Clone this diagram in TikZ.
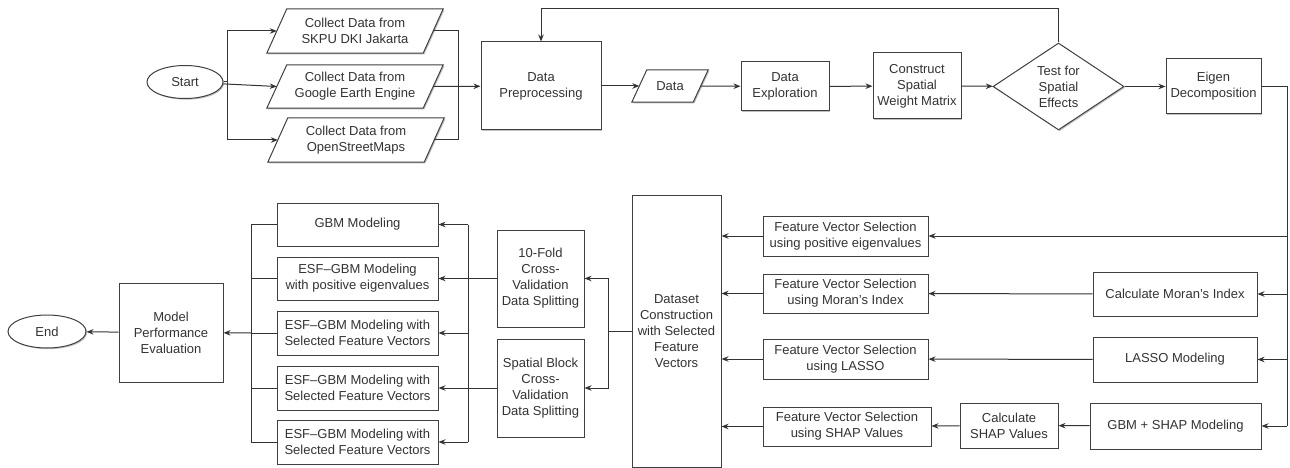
\documentclass[tikz,border=0pt]{standalone}
\usepackage{fontspec}
\setmainfont{Liberation Sans}
\usetikzlibrary{shapes.geometric,arrows.meta,calc,shadows}
\pgfdeclarelayer{background}
\pgfsetlayers{background,main}
\begin{document}
\begin{tikzpicture}[x=1pt,y=-1pt,
  every node/.style={font=\fontsize{13}{16}\selectfont, text=black!80, align=center},
  sh/.style={drop shadow={shadow xshift=1.2pt, shadow yshift=-1.2pt, opacity=0.25, fill=black}},
  box/.style={rectangle, draw=black!75, line width=1pt, fill=white, inner sep=1pt, sh},
  paranode/.style={rectangle, draw=none, inner sep=0pt},
  pshape/.style={draw=black!75, line width=1pt, fill=white, sh},
  term/.style={ellipse, draw=black!75, line width=1pt, fill=white, inner sep=0pt, sh},
  dec/.style={diamond, aspect=1.5, draw=black!75, line width=1pt, fill=white, inner sep=0pt, sh},
  line/.style={draw=black!80, line width=1pt},
  arr/.style={line, -{Stealth[length=7pt,width=5.5pt]}}
]
\useasboundingbox (0,0) rectangle (1290,468);

% top row
\node[term, minimum width=76, minimum height=33] (start) at (185,82) {Start};
\node[paranode, minimum width=176, minimum height=44] (p1) at (355,31) {Collect Data from\\SKPU DKI Jakarta};
\node[paranode, minimum width=176, minimum height=43] (p2) at (355,86.5) {Collect Data from\\Google Earth Engine};
\node[paranode, minimum width=176, minimum height=44] (p3) at (356,140) {Collect Data from\\OpenStreetMaps};
\node[box, minimum width=120, minimum height=88] (pre) at (541,86) {Data\\Preprocessing};
\node[paranode, minimum width=76, minimum height=32] (data) at (670,86) {Data};
\node[box, minimum width=88, minimum height=49] (expl) at (785,86.5) {Data\\Exploration};
\node[box, minimum width=88, minimum height=66] (cw) at (917,86) {Construct\\Spatial\\Weight Matrix};
\node[dec, minimum width=131, minimum height=87] (test) at (1058.5,86.5) {Test for\\Spatial\\Effects};
\node[box, minimum width=95, minimum height=55] (eig) at (1213.5,86.5) {Eigen\\Decomposition};

\begin{pgfonlayer}{background}
\foreach \n/\s in {p1/20,p2/20,p3/20,data/15}
  \draw[pshape] (\n.south west) -- ($(\n.north west)+(\s,0)$) -- (\n.north east) -- ($(\n.south east)-(\s,0)$) -- cycle;
\end{pgfonlayer}

% right part
\node[box, minimum width=165, minimum height=40] (fv1) at (845.5,236) {Feature Vector Selection\\using positive eigenvalues};
\node[box, minimum width=165, minimum height=39] (fv2) at (845.5,293.5) {Feature Vector Selection\\using Moran's Index};
\node[box, minimum width=165, minimum height=40] (fv3) at (845.5,359) {Feature Vector Selection\\using LASSO};
\node[box, minimum width=168, minimum height=39] (fv4) at (847,426.5) {Feature Vector Selection\\using SHAP Values};
\node[box, minimum width=164, minimum height=44] (mor) at (1175,294) {Calculate Moran's Index};
\node[box, minimum width=164, minimum height=45] (las) at (1175,359.5) {LASSO Modeling};
\node[box, minimum width=171, minimum height=46] (gs) at (1175.5,426) {GBM + SHAP Modeling};
\node[box, minimum width=98, minimum height=45] (cs) at (1009,425.5) {Calculate\\SHAP Values};

% middle
\node[box, minimum width=89, minimum height=272] (ds) at (676.5,331) {Dataset\\Construction\\with Selected\\Feature\\Vectors};
\node[box, minimum width=87, minimum height=97] (kf) at (540.5,278.5) {10-Fold\\Cross-\\Validation\\Data Splitting};
\node[box, minimum width=87, minimum height=98] (sb) at (540.5,388) {Spatial Block\\Cross-\\Validation\\Data Splitting};

% left
\node[box, minimum width=161, minimum height=43] (m1) at (357.5,224.5) {GBM Modeling};
\node[box, minimum width=161, minimum height=43] (m2) at (357.5,278.5) {ESF--GBM Modeling\\with positive eigenvalues};
\node[box, minimum width=161, minimum height=44] (m3) at (357.5,333) {ESF--GBM Modeling with\\Selected Feature Vectors};
\node[box, minimum width=161, minimum height=44] (m4) at (357.5,388) {ESF--GBM Modeling with\\Selected Feature Vectors};
\node[box, minimum width=161, minimum height=44] (m5) at (357.5,442) {ESF--GBM Modeling with\\Selected Feature Vectors};
\node[box, minimum width=104, minimum height=99] (mpe) at (171,332.5) {Model\\Performance\\Evaluation};
\node[term, minimum width=78, minimum height=33] (end) at (47,331.5) {End};

% helper coordinates
\coordinate (br) at (227,82);
\coordinate (mg) at (458,87);
\coordinate (fb) at (0,9);
\coordinate (rb) at (1287,0);
\coordinate (sp) at (608,0);
\coordinate (bus) at (468,0);
\coordinate (lb) at (251,0);

% top connectors
\draw[line] (start.east) -- (br);
\draw[arr] (br) |- ($(p1.west)+(10,0)$);
\draw[arr] (br) |- ($(p3.west)+(10,0)$);
\draw[arr] (start) -- ($(p2.west)+(10,0)$);
\draw[line] ($(p1.east)-(10,0)$) -| (mg);
\draw[line] ($(p3.east)-(10,0)$) -| (mg);
\draw[arr] ($(p2.east)-(10,0)$) -- (pre);
\draw[arr] (pre) -- ($(data.west)+(7.5,0)$);
\draw[arr] ($(data.east)-(7.5,0)$) -- (expl);
\draw[arr] (expl) -- (cw);
\draw[arr] (cw) -- (test);
\draw[arr] (test) -- (eig);
\draw[arr] (test.north) -- (test.north |- fb) -| (pre.north);

% right bus
\draw[line] (eig.east) -| (rb |- gs);
\draw[arr] (rb |- fv1) -- (fv1);
\draw[arr] (rb |- mor) -- (mor);
\draw[arr] (rb |- las) -- (las);
\draw[arr] (rb |- gs) -- (gs);
\draw[arr] (mor) -- (fv2);
\draw[arr] (las) -- (fv3);
\draw[arr] (gs) -- (cs);
\draw[arr] (cs) -- (fv4);

% to dataset
\draw[arr] (fv1) -- (fv1 -| ds.east);
\draw[arr] (fv2) -- (fv2 -| ds.east);
\draw[arr] (fv3) -- (fv3 -| ds.east);
\draw[arr] (fv4) -- (fv4 -| ds.east);

% dataset to splits
\draw[line] (ds.west) -- (sp |- ds.west);
\draw[arr] (sp |- ds.west) |- (kf);
\draw[arr] (sp |- ds.west) |- (sb);

% splits to models
\draw[arr] (kf) -- (kf -| m2.east);
\draw[arr] (sb) -- (sb -| m4.east);
\draw[line] (bus |- m1) -- (bus |- m5);
\draw[arr] (bus |- m1) -- (m1);
\draw[arr] (bus |- m3) -- (m3);
\draw[arr] (bus |- m5) -- (m5);

% models to evaluation
\draw[line] (m1.west) -| (lb |- m5);
\draw[line] (m2.west) -- (lb |- m2);
\draw[line] (m3.west) -- (lb |- m3);
\draw[line] (m4.west) -- (lb |- m4);
\draw[line] (m5.west) -- (lb |- m5);
\draw[arr] (lb |- m3) -- (mpe);
\draw[arr] (mpe) -- (end);
\end{tikzpicture}
\end{document}
